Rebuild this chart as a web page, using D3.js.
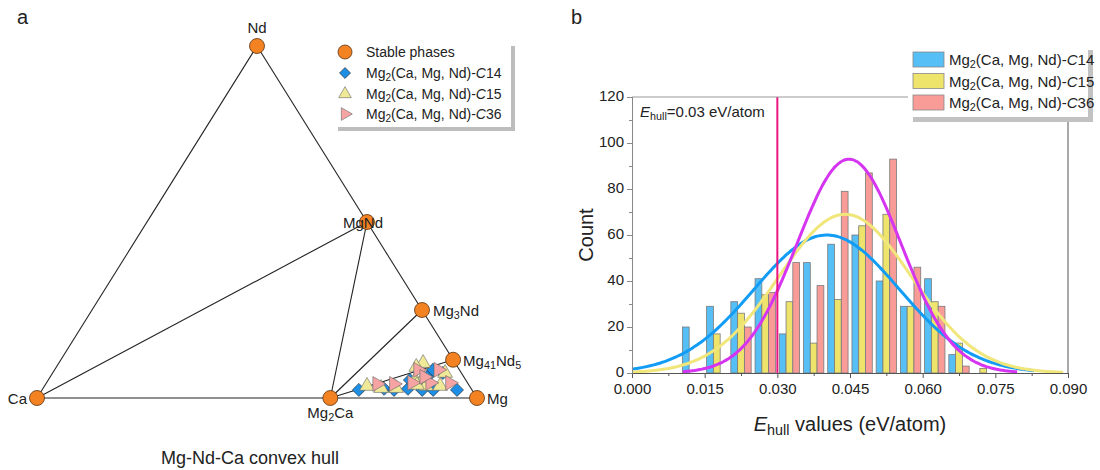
<!DOCTYPE html>
<html>
<head>
<meta charset="utf-8">
<script src="https://cdn.jsdelivr.net/npm/d3@7"></script>
<style>
  body { margin: 0; background: #fff; }
  text { font-family: Arial, "Liberation Sans", sans-serif; fill: #222; }
</style>
</head>
<body>
<script>
// ---- data: panel a (ternary, fractions of Mg and Nd; Ca = rest) ----
var phaseNames = ["Nd", "Ca", "Mg", "MgNd", "Mg3Nd", "Mg41Nd5", "Mg2Ca"];
var phaseMg = [0, 0, 1, 0.5, 0.75, 41 / 46, 2 / 3];
var phaseNd = [1, 0, 0, 0.5, 0.25, 5 / 46, 0];
var tieLines = [["Ca", "Nd"], ["Nd", "Mg"], ["Ca", "Mg"], ["Ca", "MgNd"],
  ["Mg2Ca", "MgNd"], ["Mg2Ca", "Mg3Nd"], ["Mg2Ca", "Mg41Nd5"]];

var c14Mg = [0.720, 0.776, 0.830, 0.864, 0.889, 0.943, 0.857, 0.860, 0.887, 0.822, 0.800];
var c14Nd = [0.023, 0.026, 0.026, 0.023, 0.023, 0.023, 0.060, 0.080, 0.071, 0.051, 0.023];
var c15Mg = [0.733, 0.768, 0.802, 0.834, 0.828, 0.818, 0.867, 0.892, 0.899, 0.850, 0.845];
var c15Nd = [0.034, 0.028, 0.028, 0.051, 0.099, 0.088, 0.034, 0.071, 0.034, 0.057, 0.037];
var c36Mg = [0.753, 0.791, 0.831, 0.826, 0.872, 0.872, 0.917, 0.850];
var c36Nd = [0.040, 0.040, 0.043, 0.080, 0.043, 0.080, 0.043, 0.060];

// ---- data: panel b (histogram, bin width 0.005) ----
var binCenters = [0.0125, 0.0175, 0.0225, 0.0275, 0.0325, 0.0375, 0.0425,
  0.0475, 0.0525, 0.0575, 0.0625, 0.0675, 0.0725];
var c14Counts = [20, 29, 31, 41, 17, 48, 56, 60, 40, 29, 41, 8, 0];
var c15Counts = [0, 17, 26, 34, 31, 13, 32, 64, 69, 29, 31, 13, 2];
var c36Counts = [0, 0, 20, 35, 48, 38, 79, 87, 93, 46, 29, 3, 0];

// normal-fit curves as drawn (centre, peak height, width, drawn range)
var fitMean = [0.0402, 0.0440, 0.0448];
var fitPeak = [60, 69, 93];
var fitSigma = [0.0150, 0.0137, 0.0107];
var fitFrom = [0, 0, 0.0105];
var fitTo = [0.083, 0.089, 0.0795];

var xTicks = [0, 0.015, 0.03, 0.045, 0.06, 0.075, 0.09];
var yTicks = [0, 20, 40, 60, 80, 100, 120];
var eHullLine = 0.03;

var seriesNames = ["C14", "C15", "C36"];
var barFill = ["#56bff5", "#eee46c", "#f99c98"];
var curveColor = ["#129cf5", "#f0e67a", "#d535f0"];

var svg = d3.select("body").append("svg").attr("width", 1100).attr("height", 470);

// text with sub/italic runs: [[text, "sub"|"i"|undefined], ...]
function richText(sel, parts) {
  parts.forEach(function(p) {
    var t = sel.append("tspan").text(p[0]);
    if (p[1] == "sub") t.attr("baseline-shift", "-30%").style("font-size", "72%");
    if (p[1] == "i") t.style("font-style", "italic");
  });
  return sel;
}
function seriesLabel(n) {
  return [["Mg"], ["2", "sub"], ["(Ca, Mg, Nd)-"], ["C", "i"], [n.slice(1)]];
}

// ================= panel a =================
var A = svg.append("g");
A.append("text").attr("x", 17).attr("y", 24).style("font-size", "20px").text("a");

var pCa = [37, 398], pMg = [477, 398], pNd = [257, 46];
function tern(mg, nd) {
  var ca = 1 - mg - nd;
  return [ca * pCa[0] + mg * pMg[0] + nd * pNd[0], ca * pCa[1] + mg * pMg[1] + nd * pNd[1]];
}
var phasePos = {};
phaseNames.forEach(function(n, i) { phasePos[n] = tern(phaseMg[i], phaseNd[i]); });

A.selectAll(".tie").data(tieLines).enter().append("line")
  .attr("x1", d => phasePos[d[0]][0]).attr("y1", d => phasePos[d[0]][1])
  .attr("x2", d => phasePos[d[1]][0]).attr("y2", d => phasePos[d[1]][1])
  .attr("stroke", "#222").attr("stroke-width", 1.1);

function zipPts(mg, nd) { return mg.map((m, i) => tern(m, nd[i])); }

A.selectAll(".c14").data(zipPts(c14Mg, c14Nd)).enter().append("path")
  .attr("d", d3.symbol().type(d3.symbolSquare).size(85))
  .attr("transform", d => "translate(" + d + ")rotate(45)")
  .attr("fill", "#1e8fe6").attr("stroke", "#222").attr("stroke-width", 0.6);
A.selectAll(".c15").data(zipPts(c15Mg, c15Nd)).enter().append("path")
  .attr("d", d3.symbol().type(d3.symbolTriangle).size(95))
  .attr("transform", d => "translate(" + d + ")")
  .attr("fill", "#f0ea98").attr("stroke", "#666").attr("stroke-width", 0.6);
A.selectAll(".c36").data(zipPts(c36Mg, c36Nd)).enter().append("path")
  .attr("d", d3.symbol().type(d3.symbolTriangle).size(95))
  .attr("transform", d => "translate(" + d + ")rotate(90)")
  .attr("fill", "#f5a3a3").attr("stroke", "#666").attr("stroke-width", 0.6);

A.selectAll(".phase").data(phaseNames).enter().append("circle")
  .attr("cx", d => phasePos[d][0]).attr("cy", d => phasePos[d][1]).attr("r", 7.5)
  .attr("fill", "#f28222").attr("stroke", "#5a3210").attr("stroke-width", 0.8);

var phaseLabels = {
  Nd: { dx: 0, dy: -13, anchor: "middle", parts: [["Nd"]] },
  Ca: { dx: -10, dy: 6, anchor: "end", parts: [["Ca"]] },
  Mg: { dx: 10, dy: 6, anchor: "start", parts: [["Mg"]] },
  MgNd: { dx: -4, dy: 6, anchor: "middle", parts: [["MgNd"]] },
  Mg3Nd: { dx: 11, dy: 6, anchor: "start", parts: [["Mg"], ["3", "sub"], ["Nd"]] },
  Mg41Nd5: { dx: 10, dy: 6, anchor: "start", parts: [["Mg"], ["41", "sub"], ["Nd"], ["5", "sub"]] },
  Mg2Ca: { dx: 0, dy: 20, anchor: "middle", parts: [["Mg"], ["2", "sub"], ["Ca"]] }
};
phaseNames.forEach(function(n) {
  var L = phaseLabels[n];
  richText(A.append("text").attr("x", phasePos[n][0] + L.dx).attr("y", phasePos[n][1] + L.dy)
    .attr("text-anchor", L.anchor).style("font-size", "15px"), L.parts);
});

A.append("text").attr("x", 250).attr("y", 464).attr("text-anchor", "middle")
  .style("font-size", "18px").text("Mg-Nd-Ca convex hull");

// legend a
var LA = A.append("g").attr("transform", "translate(334,42)");
LA.append("rect").attr("x", 4).attr("y", 4).attr("width", 177).attr("height", 85).attr("fill", "#bdbdbd");
LA.append("rect").attr("x", 0).attr("y", 0).attr("width", 177).attr("height", 85).attr("fill", "#fff");
LA.append("circle").attr("cx", 11).attr("cy", 10).attr("r", 7).attr("fill", "#f28222")
  .attr("stroke", "#5a3210").attr("stroke-width", 0.8);
LA.append("path").attr("d", d3.symbol().type(d3.symbolSquare).size(60))
  .attr("transform", "translate(11,31)rotate(45)").attr("fill", "#1e8fe6").attr("stroke", "#222").attr("stroke-width", 0.6);
LA.append("path").attr("d", d3.symbol().type(d3.symbolTriangle).size(70))
  .attr("transform", "translate(11,52)").attr("fill", "#f0ea98").attr("stroke", "#666").attr("stroke-width", 0.6);
LA.append("path").attr("d", d3.symbol().type(d3.symbolTriangle).size(70))
  .attr("transform", "translate(11,72)rotate(90)").attr("fill", "#f5a3a3").attr("stroke", "#666").attr("stroke-width", 0.6);
LA.append("text").attr("x", 32).attr("y", 15).style("font-size", "14px").text("Stable phases");
seriesNames.forEach(function(n, i) {
  richText(LA.append("text").attr("x", 32).attr("y", 36 + i * 20.5).style("font-size", "14px"), seriesLabel(n));
});

// ================= panel b =================
var B = svg.append("g");
B.append("text").attr("x", 571).attr("y", 24).style("font-size", "20px").text("b");

var x = d3.scaleLinear().domain([0, 0.09]).range([632, 1068]);
var y = d3.scaleLinear().domain([0, 120]).range([373, 97]);

var barW = 0.0014;
var counts = [c14Counts, c15Counts, c36Counts];
counts.forEach(function(cs, s) {
  B.selectAll(".bar" + s).data(binCenters.map((c, i) => [c, cs[i]]).filter(d => d[1] > 0))
    .enter().append("rect")
    .attr("x", d => x(d[0] - 1.5 * barW + s * barW))
    .attr("width", x(barW) - x(0))
    .attr("y", d => y(d[1]))
    .attr("height", d => y(0) - y(d[1]))
    .attr("fill", barFill[s]).attr("stroke", "#7a7a7a").attr("stroke-width", 0.8);
});

var line = d3.line().x(d => x(d[0])).y(d => y(d[1])).curve(d3.curveBasis);
fitMean.forEach(function(m, s) {
  var pts = d3.range(fitFrom[s], fitTo[s] + 1e-9, 0.0005).map(function(v) {
    return [v, fitPeak[s] * Math.exp(-(v - m) * (v - m) / (2 * fitSigma[s] * fitSigma[s]))];
  });
  B.append("path").datum(pts).attr("d", line).attr("fill", "none")
    .attr("stroke", curveColor[s]).attr("stroke-width", 3);
});

B.append("line").attr("x1", x(eHullLine)).attr("x2", x(eHullLine)).attr("y1", y(0)).attr("y2", y(120))
  .attr("stroke", "#ea1580").attr("stroke-width", 2);

// frame
B.append("line").attr("x1", x(0)).attr("x2", x(0.09)).attr("y1", y(120)).attr("y2", y(120)).attr("stroke", "#999");
B.append("line").attr("x1", x(0.09)).attr("x2", x(0.09)).attr("y1", y(120)).attr("y2", y(0)).attr("stroke", "#555");

var xAxis = d3.axisBottom(x).tickValues(xTicks).tickFormat(d3.format(".3f")).tickSizeOuter(0).tickSize(5);
var xMinor = d3.axisBottom(x).tickValues(d3.range(0.0075, 0.09, 0.015)).tickFormat("").tickSizeOuter(0).tickSize(3);
var yAxis = d3.axisLeft(y).tickValues(yTicks).tickSizeOuter(0).tickSize(5);
var yMinor = d3.axisLeft(y).tickValues(d3.range(10, 120, 20)).tickFormat("").tickSizeOuter(0).tickSize(3);

function styleAxis(g, col) {
  g.select(".domain").attr("stroke", col);
  g.selectAll(".tick line").attr("stroke", col);
  g.selectAll(".tick text").style("font-size", "15px").style("font-family", "Arial, 'Liberation Sans', sans-serif").attr("fill", "#222");
}
B.append("g").attr("transform", "translate(0," + y(0) + ")").call(xMinor).call(styleAxis, "#555");
B.append("g").attr("transform", "translate(0," + y(0) + ")").call(xAxis).call(styleAxis, "#555")
  .selectAll(".tick text").attr("dy", "0.85em");
B.append("g").attr("transform", "translate(" + x(0) + ",0)").call(yMinor).call(styleAxis, "#888");
B.append("g").attr("transform", "translate(" + x(0) + ",0)").call(yAxis).call(styleAxis, "#888")
  .selectAll(".tick text").attr("dy", "0.2em");

B.append("text").attr("transform", "translate(593," + y(60) + ")rotate(-90)")
  .attr("text-anchor", "middle").style("font-size", "20px").text("Count");
richText(B.append("text").attr("x", x(0.045)).attr("y", 431).attr("text-anchor", "middle").style("font-size", "20px"),
  [["E", "i"], ["hull", "sub"], [" values (eV/atom)"]]);
richText(B.append("text").attr("x", 640).attr("y", 117).style("font-size", "15px"),
  [["E", "i"], ["hull", "sub"], ["=0.03 eV/atom"]]);

// legend b
var LB = B.append("g").attr("transform", "translate(908,45)");
LB.append("rect").attr("x", 5).attr("y", 5).attr("width", 180).attr("height", 72).attr("fill", "#c2c2c2");
LB.append("rect").attr("x", 0).attr("y", 0).attr("width", 180).attr("height", 72).attr("fill", "#fff");
seriesNames.forEach(function(n, i) {
  LB.append("rect").attr("x", 5).attr("y", 7 + i * 21.5).attr("width", 31).attr("height", 15)
    .attr("fill", barFill[i]).attr("stroke", "#888").attr("stroke-width", 0.8);
  richText(LB.append("text").attr("x", 41).attr("y", 20 + i * 21.5).style("font-size", "15px"), seriesLabel(n));
});
</script>
</body>
</html>
